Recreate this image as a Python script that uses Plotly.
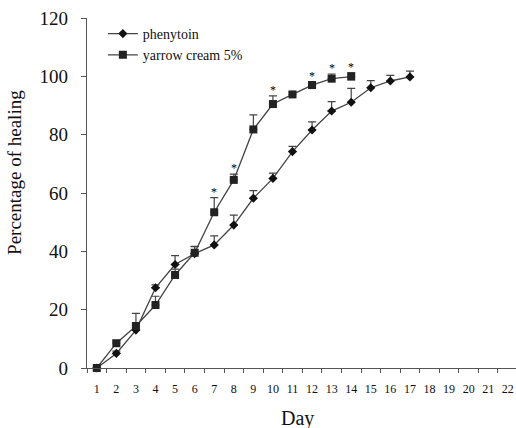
import plotly.graph_objects as go

days = [str(d) for d in range(1, 23)]

phen_days = [str(d) for d in range(1, 18)]
phen_vals = [0, 5, 13, 27.5, 35.5, 39.2, 42.2, 49, 58.2, 65, 74.2, 81.6, 88.1, 91.1, 96.1, 98.4, 99.8]
phen_err = [0, 0.8, 1.0, 1.0, 3.0, 2.4, 3.1, 3.4, 2.6, 1.8, 1.8, 2.8, 3.2, 4.8, 2.4, 1.9, 2.0]

yar_days = [str(d) for d in range(1, 15)]
yar_vals = [0, 8.5, 14.4, 21.6, 31.9, 39.5, 53.4, 64.5, 81.8, 90.5, 93.8, 97.0, 99.2, 99.9]
yar_err = [0, 0.8, 4.3, 3.0, 2.0, 2.2, 5.0, 2.0, 5.0, 2.8, 0.8, 1.2, 1.6, 1.4]

star_days = ["7", "8", "10", "12", "13", "14"]

y_ticks = [0, 20, 40, 60, 80, 100, 120]

line_col = "#444444"
font_fam = "Liberation Serif, Times New Roman, serif"

fig = go.Figure()
fig.add_trace(go.Scatter(
    x=phen_days, y=phen_vals, name="phenytoin", mode="lines+markers",
    line=dict(color=line_col, width=1.3),
    marker=dict(symbol="diamond", size=7, color="#111111"),
    error_y=dict(type="data", array=phen_err, arrayminus=[0]*len(phen_err),
                 symmetric=False, color=line_col, thickness=1.2, width=4),
    cliponaxis=False,
))
fig.add_trace(go.Scatter(
    x=yar_days, y=yar_vals, name="yarrow cream 5%", mode="lines+markers",
    line=dict(color=line_col, width=1.3),
    marker=dict(symbol="square", size=8, color="#222222"),
    error_y=dict(type="data", array=yar_err, arrayminus=[0]*len(yar_err),
                 symmetric=False, color=line_col, thickness=1.2, width=4),
    cliponaxis=False,
))

for d in star_days:
    i = yar_days.index(d)
    fig.add_annotation(x=days.index(d), y=yar_vals[i] + yar_err[i], text="*",
                       showarrow=False, yshift=6, xref="x", yref="y",
                       font=dict(family=font_fam, size=12, color="#000000"))

fig.add_annotation(text="Percentage of healing", textangle=-90, showarrow=False,
                   xref="paper", yref="paper", x=-0.168, y=0.56,
                   xanchor="center", yanchor="middle",
                   font=dict(family=font_fam, size=19, color="#111111"))
fig.add_annotation(text="Day", showarrow=False,
                   xref="paper", yref="paper", x=0.49, y=-0.143,
                   xanchor="center", yanchor="middle",
                   font=dict(family=font_fam, size=20, color="#111111"))

fig.update_layout(
    width=516, height=428,
    margin=dict(l=87, r=0, t=18, b=60, autoexpand=False),
    paper_bgcolor="white", plot_bgcolor="white",
    font=dict(family=font_fam, color="#111111"),
    showlegend=True,
    legend=dict(x=0.037, y=1.0, xanchor="left", yanchor="top",
                font=dict(family=font_fam, size=14), bgcolor="rgba(0,0,0,0)",
                tracegroupgap=0, itemwidth=30),
    xaxis=dict(
        type="category", categoryorder="array", categoryarray=days,
        range=[-0.5, 21.42], showgrid=False, zeroline=False, automargin=False,
        showline=True, linecolor="#555555", linewidth=1.3,
        ticks="outside", ticklen=4, tickcolor="#555555", tickson="boundaries",
        tickangle=0, tickfont=dict(family=font_fam, size=12), ticklabelstandoff=9,
        ticklabeloverflow="allow",
    ),
    yaxis=dict(
        range=[0, 120], tickvals=y_ticks, showgrid=False, zeroline=False, automargin=False,
        showline=True, linecolor="#555555", linewidth=1.3,
        ticks="outside", ticklen=5, tickcolor="#555555",
        tickfont=dict(family=font_fam, size=19), ticklabelstandoff=9,
    ),
)

fig.write_html("out.html", config={"displayModeBar": False},
               post_script="document.body.style.margin='0';document.body.style.overflow='hidden';")
